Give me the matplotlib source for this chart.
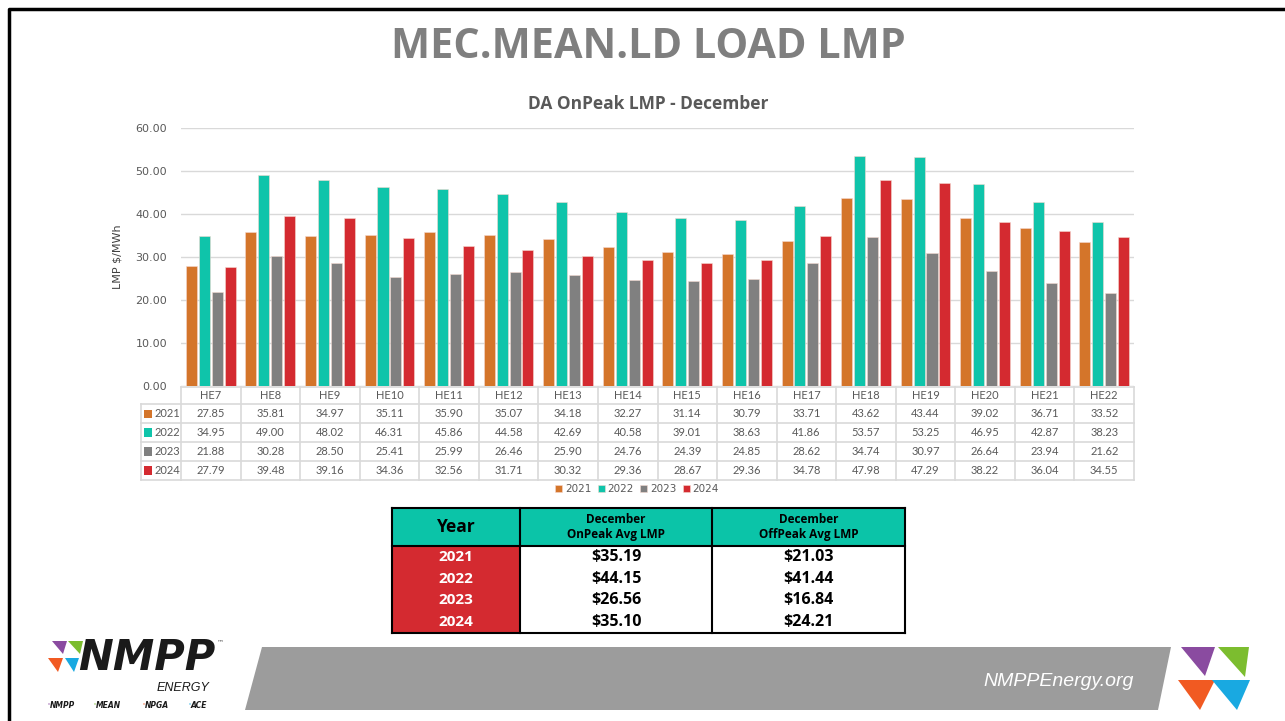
import numpy as np
import matplotlib
matplotlib.use("Agg")
import matplotlib.pyplot as plt
from matplotlib.patches import Polygon, Rectangle

# data
hours = ["HE7", "HE8", "HE9", "HE10", "HE11", "HE12", "HE13", "HE14",
         "HE15", "HE16", "HE17", "HE18", "HE19", "HE20", "HE21", "HE22"]
years = ["2021", "2022", "2023", "2024"]
lmp_2021 = [27.85, 35.81, 34.97, 35.11, 35.90, 35.07, 34.18, 32.27,
            31.14, 30.79, 33.71, 43.62, 43.44, 39.02, 36.71, 33.52]
lmp_2022 = [34.95, 49.00, 48.02, 46.31, 45.86, 44.58, 42.69, 40.58,
            39.01, 38.63, 41.86, 53.57, 53.25, 46.95, 42.87, 38.23]
lmp_2023 = [21.88, 30.28, 28.50, 25.41, 25.99, 26.46, 25.90, 24.76,
            24.39, 24.85, 28.62, 34.74, 30.97, 26.64, 23.94, 21.62]
lmp_2024 = [27.79, 39.48, 39.16, 34.36, 32.56, 31.71, 30.32, 29.36,
            28.67, 29.36, 34.78, 47.98, 47.29, 38.22, 36.04, 34.55]
series = [lmp_2021, lmp_2022, lmp_2023, lmp_2024]
colors = ["#d4752a", "#0fc4aa", "#808080", "#d42a30"]

onpeak_avg = [35.19, 44.15, 26.56, 35.10]
offpeak_avg = [21.03, 41.44, 16.84, 24.21]

W, H = 1285, 721
fig = plt.figure(figsize=(W / 100, H / 100), dpi=100)
fig.patch.set_facecolor("white")

def rect(x0, y0, x1, y1):
    # pixel box -> figure fraction
    return [x0 / W, 1 - y1 / H, (x1 - x0) / W, (y1 - y0) / H]

# background / decoration layer in pixel coords
ov = fig.add_axes([0, 0, 1, 1])
ov.set_xlim(0, W)
ov.set_ylim(H, 0)
ov.axis("off")
ov.plot([9, 9, W], [H, 9, 9], color="black", lw=2.5, solid_capstyle="butt")

ov.text(648, 48, "MEC.MEAN.LD LOAD LMP", ha="center", va="center",
        fontsize=29.8, fontweight="bold", color="#7f7f7f", family="Open Sans")
ov.text(648, 104, "DA OnPeak LMP - December", ha="center", va="center",
        fontsize=12.5, fontweight="bold", color="#595959", family="Open Sans")

# footer band
ov.add_patch(Polygon([(262, 647), (1171, 647), (1158, 710), (245, 710)],
                     closed=True, color="#9c9c9c", lw=0))
ov.text(1134, 681, "NMPPEnergy.org", ha="right", va="center", fontsize=14,
        style="italic", color="white", family="Liberation Sans")

# right logo
tri = [([(1181, 647), (1215, 647), (1205, 676)], "#8a4ba0"),
       ([(1218, 647), (1249, 647), (1245, 677)], "#7cbd2f"),
       ([(1178, 680), (1215, 680), (1200, 710)], "#f15a22"),
       ([(1212, 680), (1250, 680), (1237, 710)], "#19a9e1")]
for pts, c in tri:
    ov.add_patch(Polygon(pts, closed=True, color=c, lw=0))

# left logo
tri_l = [([(52, 641), (67, 641), (63, 654)], "#8a4ba0"),
         ([(68, 641), (83, 641), (80, 654)], "#7cbd2f"),
         ([(48, 658), (63, 658), (58, 672)], "#f15a22"),
         ([(65, 658), (79, 658), (74, 672)], "#19a9e1")]
for pts, c in tri_l:
    ov.add_patch(Polygon(pts, closed=True, color=c, lw=0))
ov.text(78, 670, "NMPP", ha="left", va="baseline", fontsize=30,
        fontweight="heavy", style="italic", color="#1a1a1a", family="DejaVu Sans")
ov.text(217, 642, "™", ha="left", va="center", fontsize=5, color="#555555")
ov.text(209, 691, "ENERGY", ha="right", va="baseline", fontsize=9,
        style="italic", color="#1a1a1a", family="Liberation Sans")
for x, lab, c in [(47, "NMPP", "#8a4ba0"), (93, "MEAN", "#7cbd2f"),
                  (142, "NPGA", "#f15a22"), (188, "ACE", "#19a9e1")]:
    ov.text(x, 705, "'", ha="left", va="center", fontsize=5, color=c,
            fontweight="bold")
    ov.text(x + 3, 706, lab, ha="left", va="center", fontsize=5.5,
            fontweight="heavy", style="italic", color="#1a1a1a")

# bar chart
ax = fig.add_axes(rect(181, 128, 1134, 386))
x = np.arange(len(hours))
step, width = 0.217, 0.185
handles = []
for i, (vals, c, yr) in enumerate(zip(series, colors, years)):
    b = ax.bar(x + (i - 1.5) * step, vals, width, color=c, edgecolor="#f4d9d0",
               linewidth=0.4, label=yr, zorder=3)
    handles.append(b)
ax.set_xlim(-0.5, len(hours) - 0.5)
ax.set_ylim(0, 60)
ax.set_yticks(np.arange(0, 61, 10))
ax.set_yticklabels([f"{v:.2f}" for v in np.arange(0, 61, 10)])
ax.tick_params(axis="y", length=0, pad=10, labelsize=8, labelcolor="#595959")
ax.set_xticks([])
ax.grid(axis="y", color="#d9d9d9", lw=1, zorder=0)
for s in ax.spines.values():
    s.set_visible(False)
ax.set_ylabel(r"LMP \$/MWh", fontsize=8, color="#404040", labelpad=9)
ax.patch.set_alpha(0)

# data table under the chart
tb = fig.add_axes(rect(141, 387, 1134, 480))
left_units = 40 / ((1134 - 181) / len(hours))
tb.set_xlim(-0.5 - left_units, len(hours) - 0.5)
tb.set_ylim(5, 0)
tb.axis("off")
row_h = [0, 0.92, 1.94, 2.96, 3.98, 5]
gc = "#d9d9d9"
# horizontal lines
tb.plot([-0.5, len(hours) - 0.5], [row_h[0]] * 2, color=gc, lw=1.2, clip_on=False)
for r in row_h[1:]:
    tb.plot([-0.5 - left_units, len(hours) - 0.5], [r, r], color=gc, lw=1.2, clip_on=False)
# vertical lines
tb.plot([-0.5 - left_units] * 2, [row_h[1], 5], color=gc, lw=1.2, clip_on=False)
for k in range(len(hours) + 1):
    tb.plot([k - 0.5] * 2, [0, 5], color=gc, lw=1.2, clip_on=False)
tc = "#595959"
for k, h in enumerate(hours):
    tb.text(k, (row_h[0] + row_h[1]) / 2, h, ha="center", va="center",
            fontsize=8, color=tc, family="Lato")
for r, (vals, c, yr) in enumerate(zip(series, colors, years)):
    yc = (row_h[r + 1] + row_h[r + 2]) / 2
    tb.add_patch(Rectangle((-0.5 - left_units + 0.05, yc - 0.22), 0.14, 0.44,
                           color=c, lw=0))
    tb.text(-0.5 - left_units + 0.22, yc, yr, ha="left", va="center",
            fontsize=8, color=tc, family="Lato")
    for k, v in enumerate(vals):
        tb.text(k, yc, f"{v:.2f}", ha="center", va="center", fontsize=8,
                color=tc, family="Lato")

fig.legend(handles=handles, labels=years, loc="center",
           bbox_to_anchor=(637 / W, 1 - 489 / H), ncol=4, frameon=False,
           fontsize=7.5, handlelength=0.7, handleheight=0.7,
           handletextpad=0.25, columnspacing=0.6, labelcolor=tc)

# summary table
sm = fig.add_axes(rect(392, 508, 905, 633))
sm.set_xlim(392, 905)
sm.set_ylim(633, 508)
sm.axis("off")
cols = [392, 520, 712, 905]
top, head_b, bot = 508, 546, 633
sm.add_patch(Rectangle((cols[0], top), cols[3] - cols[0], head_b - top,
                       color="#0bc4a8", lw=0))
sm.add_patch(Rectangle((cols[0], head_b), cols[1] - cols[0], bot - head_b,
                       color="#d42a30", lw=0))
for xx in cols:
    sm.plot([xx, xx], [top, bot], color="black", lw=1.5, clip_on=False)
for yy in [top, head_b, bot]:
    sm.plot([cols[0], cols[3]], [yy, yy], color="black", lw=1.5, clip_on=False)
sm.text((cols[0] + cols[1]) / 2, 527, "Year", ha="center", va="center",
        fontsize=12.5, fontweight="bold", color="black", family="Open Sans")
for j, lab in enumerate(["December\nOnPeak Avg LMP", "December\nOffPeak Avg LMP"]):
    sm.text((cols[j + 1] + cols[j + 2]) / 2, 527, lab, ha="center", va="center",
            fontsize=8.5, fontweight="bold", color="black", family="Open Sans",
            linespacing=1.15)
row_y = np.linspace(head_b, bot, len(years) + 1)
for r, yr in enumerate(years):
    yc = (row_y[r] + row_y[r + 1]) / 2
    sm.text((cols[0] + cols[1]) / 2, yc, yr, ha="center", va="center",
            fontsize=11, fontweight="bold", color="white", family="Open Sans")
    sm.text((cols[1] + cols[2]) / 2, yc, f"${onpeak_avg[r]:.2f}", ha="center",
            va="center", fontsize=11.5, fontweight="bold", color="black",
            family="Open Sans")
    sm.text((cols[2] + cols[3]) / 2, yc, f"${offpeak_avg[r]:.2f}", ha="center",
            va="center", fontsize=11.5, fontweight="bold", color="black",
            family="Open Sans")

fig.savefig("out.png", dpi=100)
